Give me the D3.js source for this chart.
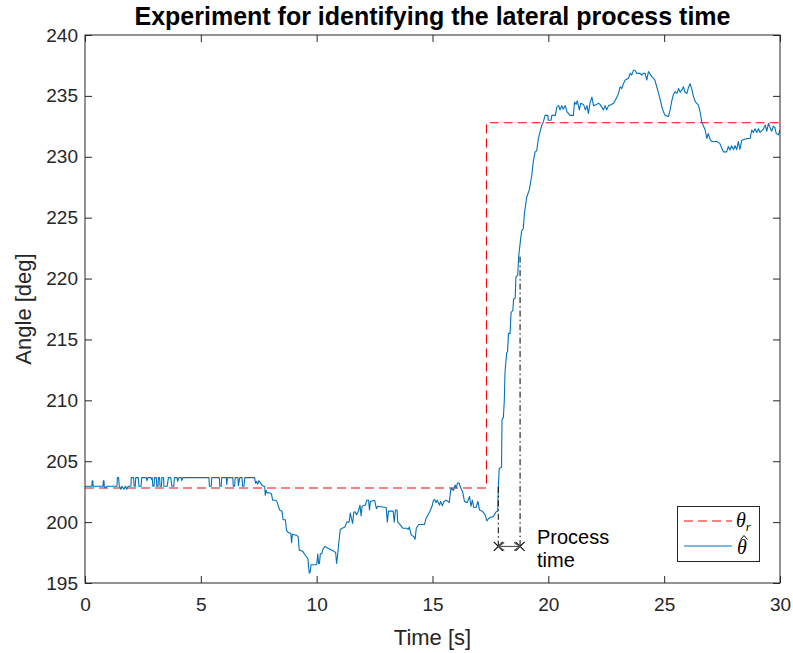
<!DOCTYPE html>
<html>
<head>
<meta charset="utf-8">
<script src="https://cdn.jsdelivr.net/npm/d3@7"></script>
<style>
  html, body { margin: 0; padding: 0; background: #fff; }
  svg { display: block; font-family: "Liberation Sans", Arial, Helvetica, sans-serif; }
</style>
</head>
<body>
<svg id="chart" width="793" height="653"></svg>
<script>
// Reference step (theta_r) [s, deg]
const refTime  = [0, 17.33, 17.33, 30];
const refAngle = [202.8, 202.8, 232.8, 232.8];

// Estimated lateral angle (theta hat): [time s, angle deg]
const estimate = [
  [0,202.95],[0.30,202.95],[0.31,203.4],[0.34,203.4],[0.35,202.95],[0.78,202.95],[0.79,203.4],[0.82,203.4],
  [0.83,202.95],[0.88,202.8],[0.93,202.95],[1.38,202.95],[1.40,203.65],[1.45,203.65],[1.48,202.95],[1.55,202.7],
  [1.6,202.95],[1.68,202.7],[1.74,202.95],[1.8,202.7],[1.86,202.95],[1.98,202.95],[2.0,203.65],[2.1,203.65],
  [2.12,202.95],[2.17,202.95],[2.19,203.65],[2.3,203.65],[2.33,202.95],[2.42,202.95],[2.45,203.65],[2.65,203.65],
  [2.67,203.4],[2.72,203.65],[2.85,203.65],[2.88,203.5],[2.9,203.65],[2.93,202.95],[2.98,202.95],[3.0,203.65],
  [3.08,203.65],[3.1,202.95],[3.15,202.95],[3.17,203.65],[3.22,203.65],[3.24,202.95],[3.3,202.95],[3.32,203.65],
  [3.39,203.65],[3.41,202.95],[3.55,202.95],[3.6,203.65],[3.7,203.65],[3.75,202.95],[3.83,202.95],[3.86,203.65],
  [3.97,203.65],[4.0,203.35],[4.05,203.65],[4.15,203.65],[4.18,203.4],[4.22,203.65],[5.35,203.65],[5.37,202.95],
  [5.45,202.95],[5.47,203.65],[5.8,203.65],[5.82,202.95],[5.88,202.95],[5.9,203.65],[6.1,203.65],[6.12,203.1],
  [6.15,203.65],[6.38,203.65],[6.4,202.95],[6.46,202.95],[6.48,203.65],[6.6,203.65],[6.62,203.0],[6.68,203.65],
  [6.78,203.65],[6.8,202.95],[6.86,202.95],[6.9,203.65],[7.32,203.65],[7.36,203.2],[7.4,203.35],[7.45,203.1],
  [7.5,203.4],[7.58,203.2],[7.65,203.0],[7.72,202.95],[7.76,202.9],[7.78,202.2],[7.82,202.6],[7.86,202.4],
  [7.95,202.4],[8.05,202.3],[8.1,201.8],[8.25,201.8],[8.3,201.6],[8.4,201.0],[8.5,200.9],[8.55,200.2],
  [8.65,200.2],[8.7,199.3],[8.8,199.1],[8.88,199.1],[8.92,198.3],[8.95,199.0],[9.15,198.9],[9.2,198.8],
  [9.25,197.7],[9.4,197.6],[9.5,197.3],[9.62,197.0],[9.65,196.4],[9.68,195.8],[9.72,195.9],[9.76,196.5],
  [10.0,196.5],[10.05,197.4],[10.08,196.6],[10.12,196.6],[10.16,197.4],[10.22,197.4],[10.28,197.8],[10.35,198.0],
  [10.55,197.8],[10.75,197.6],[10.82,197.5],[10.86,196.6],[10.9,197.2],[10.95,198.2],[11.02,199.4],[11.1,199.5],
  [11.22,199.6],[11.3,200.0],[11.4,200.0],[11.45,200.75],[11.5,200.3],[11.55,199.9],[11.6,200.8],[11.66,200.85],
  [11.72,200.6],[11.8,200.9],[11.87,201.4],[11.92,200.5],[11.96,201.3],[12.1,201.4],[12.16,201.8],[12.24,201.8],
  [12.28,201.0],[12.32,201.7],[12.5,201.8],[12.58,201.1],[12.64,201.3],[13.0,201.2],[13.05,200.0],[13.1,200.9],
  [13.3,200.9],[13.35,200.0],[13.4,201.0],[13.47,201.0],[13.5,200.0],[13.6,199.8],[13.72,199.5],[13.88,199.5],
  [13.95,199.4],[14.0,199.6],[14.08,198.95],[14.2,198.8],[14.25,198.6],[14.3,199.5],[14.4,199.8],[14.65,199.8],
  [14.72,200.3],[14.88,200.85],[14.98,201.3],[15.04,201.8],[15.1,201.85],[15.15,201.6],[15.2,201.8],[15.3,201.4],
  [15.35,201.7],[15.42,201.35],[15.5,201.7],[15.6,201.8],[15.72,201.6],[15.8,202.8],[15.9,202.6],[15.98,203.05],
  [16.02,202.8],[16.08,203.2],[16.15,203.2],[16.22,202.8],[16.3,202.5],[16.38,201.7],[16.5,201.6],[16.6,202.1],
  [16.66,201.3],[16.72,201.8],[16.78,201.2],[16.88,201.2],[16.96,201.7],[17.03,201.0],[17.15,200.9],[17.27,200.6],
  [17.35,200.1],[17.42,200.3],[17.5,200.4],[17.62,200.45],[17.75,200.85],[17.82,200.9],[17.84,202.9],[17.88,204.4],
  [17.98,204.5],[18.0,208.4],[18.06,208.6],[18.1,210.0],[18.13,212.3],[18.2,213.9],[18.24,214.0],[18.28,215.5],
  [18.35,215.5],[18.39,217.2],[18.47,217.4],[18.5,218.3],[18.57,218.4],[18.6,220.1],[18.68,220.3],[18.72,221.8],
  [18.8,223.2],[18.85,223.9],[18.92,224.1],[18.97,225.4],[19.07,226.7],[19.18,227.3],[19.28,228.4],[19.35,229.6],
  [19.43,230.4],[19.5,230.5],[19.57,231.5],[19.65,232.1],[19.72,232.6],[19.79,232.9],[19.86,233.4],[19.98,233.4],
  [20.0,233.0],[20.12,233.0],[20.15,233.4],[20.3,233.4],[20.37,234.1],[20.45,234.2],[20.5,233.85],[20.58,234.2],
  [20.64,233.9],[20.73,234.2],[20.8,233.7],[20.94,233.4],[21.08,233.4],[21.13,234.5],[21.2,234.3],[21.25,234.6],
  [21.34,233.85],[21.4,234.4],[21.52,234.3],[21.6,233.85],[21.67,234.2],[21.73,233.55],[21.8,234.4],[21.88,234.9],
  [21.95,234.2],[22.09,234.3],[22.16,234.4],[22.23,234.3],[22.38,233.85],[22.45,234.2],[22.52,233.85],[22.6,234.2],
  [22.67,234.25],[22.82,234.4],[22.96,234.9],[23.03,235.2],[23.1,235.75],[23.17,235.6],[23.24,236.0],[23.32,236.3],
  [23.46,236.45],[23.53,236.85],[23.6,236.7],[23.67,237.1],[23.74,237.1],[23.82,236.85],[23.96,236.85],[24.03,236.7],
  [24.1,236.85],[24.18,236.85],[24.25,236.3],[24.32,237.0],[24.46,236.6],[24.53,236.45],[24.6,236.3],[24.68,235.75],
  [24.76,235.2],[24.83,234.7],[24.9,234.1],[24.97,233.7],[25.04,233.4],[25.18,233.3],[25.26,233.85],[25.33,234.6],
  [25.4,235.1],[25.47,235.35],[25.55,235.2],[25.62,235.6],[25.69,235.3],[25.76,235.45],[25.83,235.75],[25.9,235.3],
  [25.98,235.2],[26.05,235.7],[26.12,236.0],[26.2,235.5],[26.27,234.9],[26.35,234.5],[26.48,234.25],[26.55,233.7],
  [26.62,232.9],[26.7,232.5],[26.77,232.2],[26.84,231.5],[26.9,231.9],[26.99,231.4],[27.06,231.25],[27.27,231.25],
  [27.4,231.1],[27.49,230.7],[27.56,230.4],[27.7,230.4],[27.77,230.85],[27.84,230.55],[27.91,230.9],[27.99,230.6],
  [28.06,230.9],[28.13,230.6],[28.2,231.25],[28.27,230.6],[28.35,231.35],[28.57,231.5],[28.71,231.5],[28.78,232.2],
  [28.85,232.0],[28.92,232.3],[29.0,232.0],[29.07,232.3],[29.14,232.0],[29.29,232.3],[29.36,232.6],[29.43,232.1],
  [29.5,232.75],[29.57,232.4],[29.64,232.1],[29.71,232.5],[29.78,232.4],[29.84,231.9],[29.93,231.8],[30,232.2]
];

// Process-time markers: start of response, end of dead-time window
const processStart = [17.84, 202.9];
const processEnd   = [18.78, 221.8];
const processLevel = 198.0;

const xTicks = [0, 5, 10, 15, 20, 25, 30];
const yTicks = [195, 200, 205, 210, 215, 220, 225, 230, 235, 240];

const titleText = "Experiment for identifying the lateral process time";
const xLabel = "Time [s]";
const yLabel = "Angle [deg]";

const svg = d3.select("#chart");
const axisColor = "#262626";

const x = d3.scaleLinear().domain([0, 30]).range([85, 780]);
const y = d3.scaleLinear().domain([195, 240]).range([583, 35]);

svg.append("clipPath").attr("id", "plotclip")
  .append("rect").attr("x", x(0)).attr("y", y(240))
  .attr("width", x(30) - x(0)).attr("height", y(195) - y(240));

const plot = svg.append("g").attr("clip-path", "url(#plotclip)");
const line = d3.line().x(d => x(d[0])).y(d => y(d[1]));

// reference step
plot.append("path")
  .datum(refTime.map((t, i) => [t, refAngle[i]]))
  .attr("d", line)
  .attr("fill", "none").attr("stroke", "#ff0000").attr("stroke-width", 1.1)
  .attr("stroke-dasharray", "9,5");

// estimate
plot.append("path")
  .datum(estimate)
  .attr("d", line)
  .attr("fill", "none").attr("stroke", "#0072bd").attr("stroke-width", 1.1)
  .attr("stroke-linejoin", "round");

// process time annotation
const ann = svg.append("g");
[processStart, processEnd].forEach(p => {
  ann.append("line")
    .attr("x1", x(p[0])).attr("x2", x(p[0]))
    .attr("y1", y(p[1])).attr("y2", y(processLevel))
    .attr("stroke", "#000").attr("stroke-width", 1)
    .attr("stroke-dasharray", "6,3,1.5,3");
  const cx = x(p[0]), cy = y(processLevel), s = 4.5;
  ann.append("path")
    .attr("d", `M${cx - s},${cy - s}L${cx + s},${cy + s}M${cx - s},${cy + s}L${cx + s},${cy - s}`)
    .attr("stroke", "#000").attr("stroke-width", 1.1).attr("fill", "none");
});
{
  const x0 = x(processStart[0]), x1 = x(processEnd[0]), yy = y(processLevel), h = 4;
  ann.append("line").attr("x1", x0).attr("x2", x1).attr("y1", yy).attr("y2", yy)
    .attr("stroke", "#555").attr("stroke-width", 1.2);
  ann.append("path")
    .attr("d", `M${x0 + 6},${yy - h}L${x0},${yy}L${x0 + 6},${yy + h}M${x1 - 6},${yy - h}L${x1},${yy}L${x1 - 6},${yy + h}`)
    .attr("stroke", "#555").attr("stroke-width", 1.2).attr("fill", "none");
}
ann.append("text").attr("x", 537).attr("y", 544)
  .attr("font-size", 20).attr("fill", "#000").text("Process");
ann.append("text").attr("x", 537).attr("y", 567)
  .attr("font-size", 20).attr("fill", "#000").text("time");

// axes: box with inward ticks on all four sides
function styleAxis(g) {
  g.selectAll(".domain").remove();
  g.selectAll(".tick line").attr("stroke", axisColor).attr("stroke-width", 1);
  g.selectAll(".tick text").attr("fill", axisColor).attr("font-size", 19)
    .attr("font-family", "Liberation Sans, Arial, sans-serif");
}
svg.append("g").attr("transform", `translate(0,${y(195)})`)
  .call(d3.axisBottom(x).tickValues(xTicks).tickFormat(d3.format("d")).tickSizeInner(-7).tickSizeOuter(0).tickPadding(15))
  .call(styleAxis);
svg.append("g").attr("transform", `translate(0,${y(240)})`)
  .call(d3.axisTop(x).tickValues(xTicks).tickSizeInner(-7).tickSizeOuter(0).tickFormat(""))
  .call(styleAxis);
svg.append("g").attr("transform", `translate(${x(0)},0)`)
  .call(d3.axisLeft(y).tickValues(yTicks).tickFormat(d3.format("d")).tickSizeInner(-7).tickSizeOuter(0).tickPadding(7))
  .call(styleAxis);
svg.append("g").attr("transform", `translate(${x(30)},0)`)
  .call(d3.axisRight(y).tickValues(yTicks).tickSizeInner(-7).tickSizeOuter(0).tickFormat(""))
  .call(styleAxis);

svg.append("rect").attr("x", x(0)).attr("y", y(240))
  .attr("width", x(30) - x(0)).attr("height", y(195) - y(240))
  .attr("fill", "none").attr("stroke", axisColor).attr("stroke-width", 1);

// legend
const lg = svg.append("g");
lg.append("rect").attr("x", 677.5).attr("y", 506.5).attr("width", 82).attr("height", 55)
  .attr("fill", "#fff").attr("stroke", axisColor).attr("stroke-width", 1);
lg.append("line").attr("x1", 684).attr("x2", 732).attr("y1", 521).attr("y2", 521)
  .attr("stroke", "#ff0000").attr("stroke-width", 1.1).attr("stroke-dasharray", "9,5");
lg.append("line").attr("x1", 684).attr("x2", 732).attr("y1", 546).attr("y2", 546)
  .attr("stroke", "#0072bd").attr("stroke-width", 1.1);
const lt1 = lg.append("text").attr("x", 736).attr("y", 527)
  .attr("font-family", "Liberation Serif, serif").attr("font-style", "italic").attr("font-size", 20).attr("fill", "#000");
lt1.append("tspan").text("θ");
lt1.append("tspan").attr("font-size", 13).attr("dy", 4).text("r");
lg.append("text").attr("x", 737).attr("y", 554)
  .attr("font-family", "Liberation Serif, serif").attr("font-style", "italic").attr("font-size", 20).attr("fill", "#000")
  .text("θ");
// hat accent over theta
lg.append("path").attr("d", "M740.5,539.5L744,535.5L747.5,539.5")
  .attr("fill", "none").attr("stroke", "#000").attr("stroke-width", 1);

// titles
svg.append("text").attr("x", (x(0) + x(30)) / 2).attr("y", 25)
  .attr("text-anchor", "middle").attr("font-size", 25).attr("font-weight", "bold").attr("fill", "#000")
  .text(titleText);
svg.append("text").attr("x", (x(0) + x(30)) / 2).attr("y", 645)
  .attr("text-anchor", "middle").attr("font-size", 22).attr("fill", axisColor)
  .text(xLabel);
svg.append("text").attr("transform", `translate(31,${(y(195) + y(240)) / 2}) rotate(-90)`)
  .attr("text-anchor", "middle").attr("font-size", 22).attr("fill", axisColor)
  .text(yLabel);
</script>
</body>
</html>
